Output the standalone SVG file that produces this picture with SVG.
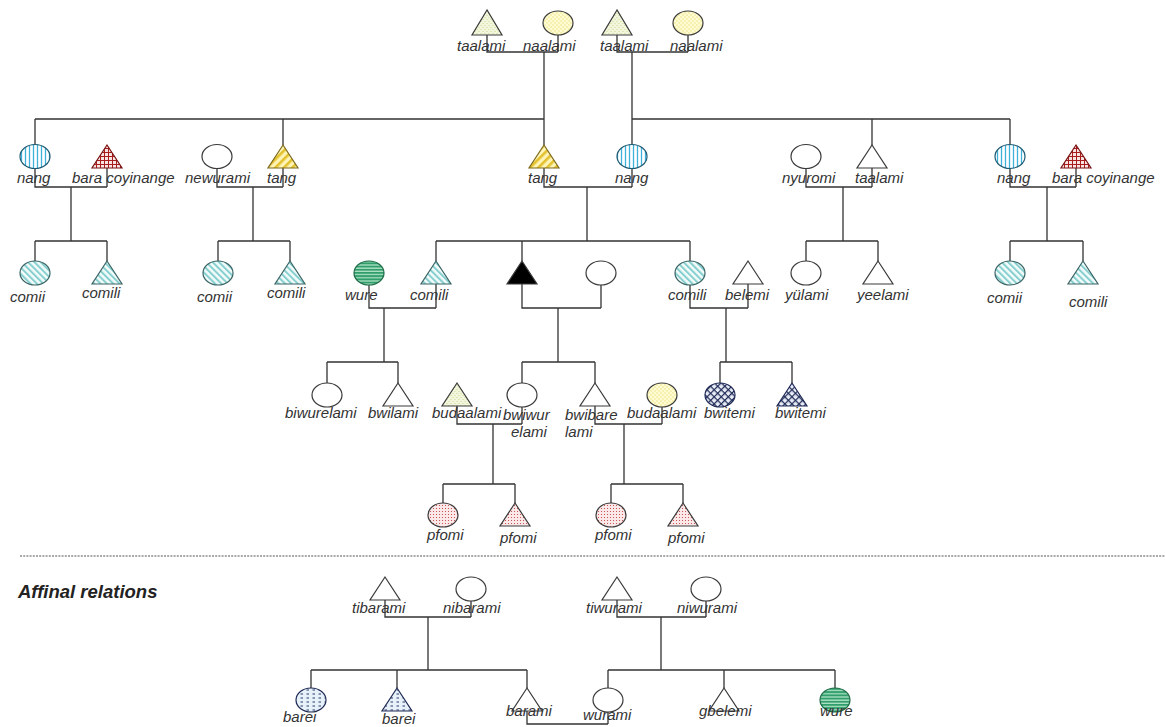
<svg xmlns="http://www.w3.org/2000/svg" width="1165" height="727" viewBox="0 0 1165 727">
  <defs>
    <!-- fill patterns for the kin-term categories -->
    <pattern id="pVBlue" width="4" height="4" patternUnits="userSpaceOnUse">
      <rect width="4" height="4" fill="#ffffff"/>
      <line x1="1.5" y1="0" x2="1.5" y2="4" stroke="#3fb0da" stroke-width="1.3"/>
    </pattern>
    <pattern id="pRedGrid" width="4" height="4" patternUnits="userSpaceOnUse">
      <rect width="4" height="4" fill="#f9e4e4"/>
      <path d="M0 0.5H4M0.5 0V4" stroke="#a81c1c" stroke-width="1"/>
    </pattern>
    <pattern id="pYelDiag" width="6" height="6" patternUnits="userSpaceOnUse" patternTransform="rotate(45)">
      <rect width="6" height="6" fill="#fff4b8"/>
      <rect width="2.6" height="6" fill="#e3c12c"/>
    </pattern>
    <pattern id="pTealDiag" width="4.5" height="4.5" patternUnits="userSpaceOnUse" patternTransform="rotate(-45)">
      <rect width="4.5" height="4.5" fill="#f4fbfb"/>
      <rect width="2" height="4.5" fill="#86cfcf"/>
    </pattern>
    <pattern id="pGreenH" width="4" height="3.2" patternUnits="userSpaceOnUse">
      <rect width="4" height="3.2" fill="#2f9e6b"/>
      <rect y="2" width="4" height="1.1" fill="#c6ecd6"/>
    </pattern>
    <pattern id="pNavyX" width="5" height="5" patternUnits="userSpaceOnUse" patternTransform="rotate(45)">
      <rect width="5" height="5" fill="#e9edf8"/>
      <path d="M0 0.6H5M0.6 0V5" stroke="#1f2a55" stroke-width="1.2"/>
    </pattern>
    <pattern id="pYelDots" width="4" height="4" patternUnits="userSpaceOnUse">
      <rect width="4" height="4" fill="#fffbd2"/>
      <circle cx="1" cy="1" r="0.7" fill="#e8df78"/>
      <circle cx="3" cy="3" r="0.7" fill="#e8df78"/>
    </pattern>
    <pattern id="pGrnDots" width="4" height="4" patternUnits="userSpaceOnUse">
      <rect width="4" height="4" fill="#f3f6dc"/>
      <path d="M0.5 2L1.5 1M2.5 4L3.5 3" stroke="#b9d27e" stroke-width="0.8"/>
    </pattern>
    <pattern id="pRedDots" width="3" height="3" patternUnits="userSpaceOnUse">
      <rect width="3" height="3" fill="#fbe8e8"/>
      <circle cx="1.5" cy="1.5" r="0.55" fill="#c03a3a"/>
    </pattern>
    <pattern id="pBlueDash" width="6" height="4" patternUnits="userSpaceOnUse">
      <rect width="6" height="4" fill="#e6f1fa"/>
      <path d="M0.5 2H3" stroke="#2a3a6a" stroke-width="1"/>
    </pattern>
  </defs>

  <style>
    .ln { fill: none; stroke: #333; stroke-width: 1.3; }
    .sh { stroke: #3a3a3a; stroke-width: 1.2; }
    .sh.blue { stroke: #1d5a72; }
    .sh.red { stroke: #7a1212; }
    .sh.gold { stroke: #7d6a1c; }
    .sh.teal { stroke: #3b6464; }
    .sh.navy { stroke: #1f2a55; }
    .sh.green { stroke: #1e6b47; }
    .lb { font-family: "Liberation Sans", Arial, sans-serif; font-style: italic; font-size: 15px; fill: #333; }
    .hd { font-family: "Liberation Sans", Arial, sans-serif; font-style: italic; font-weight: bold; font-size: 18.5px; fill: #222; }
    .sep { stroke: #555; stroke-width: 1; stroke-dasharray: 2 1.2; }
  </style>

  <rect width="1165" height="727" fill="#ffffff"/>

  <!-- connectors: marriage lines, descent lines and sibling bars -->
  <g id="connectors" class="ln">
    <!-- first generation couples -->
    <path d="M487 35V52H558M558 35V52M544 52V145"/>
    <path d="M617 35V52H688M688 35V52M632 52V144.5"/>
    <!-- sibling bars, second generation -->
    <path d="M35 119H544M35 119V144.5M283 119V145"/>
    <path d="M632 119H1010M872 119V145M1010 119V144.5"/>
    <!-- second generation couples -->
    <path d="M35 168.5V187H107M107 168V187M71 187V241"/>
    <path d="M217 168.5V187H283M283 168V187M253 187V241"/>
    <path d="M544 168V187H632M632 168.5V187M587 187V241"/>
    <path d="M806 168.5V187H872M872 168V187M843 187V241"/>
    <path d="M1010 168.5V187H1076M1076 168V187M1047 187V241"/>
    <!-- sibling bars, third generation -->
    <path d="M35 241H107M35 241V261M107 241V261"/>
    <path d="M218 241H290M218 241V261M290 241V261"/>
    <path d="M436 241H690M436 241V261M522 241V261M690 241V261"/>
    <path d="M806 241H878M806 241V261M878 241V261"/>
    <path d="M1010 241H1083M1010 241V261M1083 241V261"/>
    <!-- third generation couples -->
    <path d="M369 285V308H436M436 284V308M384 308V362"/>
    <path d="M522 284V308H601M601 285V308M558 308V362"/>
    <path d="M690 285V308H748M748 284V308M726 308V362"/>
    <!-- sibling bars, fourth generation -->
    <path d="M327 362H398M327 362V383M398 362V383"/>
    <path d="M522 362H595M522 362V383M595 362V383"/>
    <path d="M720 362H792M720 362V383M792 362V383"/>
    <!-- fourth generation couples -->
    <path d="M457 406V424H522M522 407V424M493 424V484"/>
    <path d="M595 406V424H662M662 407V424M624 424V484"/>
    <!-- sibling bars, fifth generation -->
    <path d="M443 484H515M443 484V503M515 484V503"/>
    <path d="M611 484H683M611 484V503M683 484V503"/>
    <!-- affinal couples and children -->
    <path d="M385 600V617H471M471 601V617M428 617V670"/>
    <path d="M617 600V617H706M706 601V617M661 617V670"/>
    <path d="M311 670H527M311 670V688M397 670V688M527 670V688"/>
    <path d="M608 670H835M608 670V688M724 670V688M835 670V688"/>
    <path d="M527 711V724H608M608 712V724"/>
  </g>

  <!-- generation 1 -->
  <g id="taalami-1"><polygon class="sh" fill="url(#pGrnDots)" points="487,10 472,35 502,35"/><text class="lb" x="457" y="51">taalami</text></g>
  <g id="naalami-1"><ellipse class="sh" fill="url(#pYelDots)" cx="558" cy="23" rx="15" ry="12"/><text class="lb" x="523" y="51">naalami</text></g>
  <g id="taalami-2"><polygon class="sh" fill="url(#pGrnDots)" points="617,10 602,35 632,35"/><text class="lb" x="600" y="51">taalami</text></g>
  <g id="naalami-2"><ellipse class="sh" fill="url(#pYelDots)" cx="688" cy="23" rx="15" ry="12"/><text class="lb" x="670" y="51">naalami</text></g>

  <!-- generation 2 -->
  <g id="nang-1"><ellipse class="sh blue" fill="url(#pVBlue)" cx="35" cy="156.5" rx="15" ry="12"/><text class="lb" x="17" y="183">nang</text></g>
  <g id="bara-coyinange-1"><polygon class="sh red" fill="url(#pRedGrid)" points="107,145 92,168 122,168"/><text class="lb" x="72" y="183">bara coyinange</text></g>
  <g id="newurami"><ellipse class="sh" fill="#fff" cx="217" cy="156.5" rx="15" ry="12"/><text class="lb" x="185" y="183">newurami</text></g>
  <g id="tang-1"><polygon class="sh gold" fill="url(#pYelDiag)" points="283,145 268,168 298,168"/><text class="lb" x="267" y="183">tang</text></g>
  <g id="tang-2"><polygon class="sh gold" fill="url(#pYelDiag)" points="544,145 529,168 559,168"/><text class="lb" x="528" y="183">tang</text></g>
  <g id="nang-2"><ellipse class="sh blue" fill="url(#pVBlue)" cx="632" cy="156.5" rx="15" ry="12"/><text class="lb" x="615" y="183">nang</text></g>
  <g id="nyuromi"><ellipse class="sh" fill="#fff" cx="806" cy="156.5" rx="15" ry="12"/><text class="lb" x="782" y="183">nyuromi</text></g>
  <g id="taalami-3"><polygon class="sh" fill="#fff" points="872,145 857,168 887,168"/><text class="lb" x="855" y="183">taalami</text></g>
  <g id="nang-3"><ellipse class="sh blue" fill="url(#pVBlue)" cx="1010" cy="156.5" rx="15" ry="12"/><text class="lb" x="997" y="183">nang</text></g>
  <g id="bara-coyinange-2"><polygon class="sh red" fill="url(#pRedGrid)" points="1076,145 1061,168 1091,168"/><text class="lb" x="1052" y="183">bara coyinange</text></g>

  <!-- generation 3 -->
  <g id="comii-1"><ellipse class="sh teal" fill="url(#pTealDiag)" cx="35" cy="273" rx="15" ry="12"/><text class="lb" x="10" y="302">comii</text></g>
  <g id="comili-1"><polygon class="sh teal" fill="url(#pTealDiag)" points="107,261 92,284 122,284"/><text class="lb" x="82" y="298">comili</text></g>
  <g id="comii-2"><ellipse class="sh teal" fill="url(#pTealDiag)" cx="218" cy="273" rx="15" ry="12"/><text class="lb" x="197" y="302">comii</text></g>
  <g id="comili-2"><polygon class="sh teal" fill="url(#pTealDiag)" points="290,261 275,284 305,284"/><text class="lb" x="267" y="298">comili</text></g>
  <g id="wure-1"><ellipse class="sh green" fill="url(#pGreenH)" cx="369" cy="273" rx="15" ry="12"/><text class="lb" x="345" y="300">wure</text></g>
  <g id="comili-3"><polygon class="sh teal" fill="url(#pTealDiag)" points="436,261 421,284 451,284"/><text class="lb" x="410" y="300">comili</text></g>
  <g id="ego"><polygon class="sh" fill="#000" points="522,261 507,284 537,284"/></g>
  <g id="ego-wife"><ellipse class="sh" fill="#fff" cx="601" cy="273" rx="15" ry="12"/></g>
  <g id="comili-4"><ellipse class="sh teal" fill="url(#pTealDiag)" cx="690" cy="273" rx="15" ry="12"/><text class="lb" x="668" y="300">comili</text></g>
  <g id="belemi"><polygon class="sh" fill="#fff" points="748,261 733,284 763,284"/><text class="lb" x="725" y="300">belemi</text></g>
  <g id="yulami"><ellipse class="sh" fill="#fff" cx="806" cy="273" rx="15" ry="12"/><text class="lb" x="785" y="300">yülami</text></g>
  <g id="yeelami"><polygon class="sh" fill="#fff" points="878,261 863,284 893,284"/><text class="lb" x="857" y="300">yeelami</text></g>
  <g id="comii-3"><ellipse class="sh teal" fill="url(#pTealDiag)" cx="1010" cy="273" rx="15" ry="12"/><text class="lb" x="987" y="303">comii</text></g>
  <g id="comili-5"><polygon class="sh teal" fill="url(#pTealDiag)" points="1083,261 1068,284 1098,284"/><text class="lb" x="1069" y="307">comili</text></g>

  <!-- generation 4 -->
  <g id="biwurelami"><ellipse class="sh" fill="#fff" cx="327" cy="395" rx="15" ry="12"/><text class="lb" x="285" y="418">biwurelami</text></g>
  <g id="bwilami"><polygon class="sh" fill="#fff" points="398,383 383,406 413,406"/><text class="lb" x="368" y="418">bwilami</text></g>
  <g id="budaalami-1"><polygon class="sh" fill="url(#pGrnDots)" points="457,383 442,406 472,406"/><text class="lb" x="432" y="418">budaalami</text></g>
  <g id="bwiwurelami"><ellipse class="sh" fill="#fff" cx="522" cy="395" rx="15" ry="12"/><text class="lb" x="503" y="420">bwiwur</text><text class="lb" x="511" y="437">elami</text></g>
  <g id="bwibarelami"><polygon class="sh" fill="#fff" points="595,383 580,406 610,406"/><text class="lb" x="565" y="420">bwibare</text><text class="lb" x="565" y="437">lami</text></g>
  <g id="budaalami-2"><ellipse class="sh" fill="url(#pYelDots)" cx="662" cy="395" rx="15" ry="12"/><text class="lb" x="627" y="418">budaalami</text></g>
  <g id="bwitemi-1"><ellipse class="sh navy" fill="url(#pNavyX)" cx="720" cy="395" rx="15" ry="12"/><text class="lb" x="704" y="418">bwitemi</text></g>
  <g id="bwitemi-2"><polygon class="sh navy" fill="url(#pNavyX)" points="792,383 777,406 807,406"/><text class="lb" x="775" y="418">bwitemi</text></g>

  <!-- generation 5 -->
  <g id="pfomi-1"><ellipse class="sh" fill="url(#pRedDots)" cx="443" cy="515" rx="15" ry="12"/><text class="lb" x="427" y="540">pfomi</text></g>
  <g id="pfomi-2"><polygon class="sh" fill="url(#pRedDots)" points="515,503 500,526 530,526"/><text class="lb" x="500" y="543">pfomi</text></g>
  <g id="pfomi-3"><ellipse class="sh" fill="url(#pRedDots)" cx="611" cy="515" rx="15" ry="12"/><text class="lb" x="595" y="540">pfomi</text></g>
  <g id="pfomi-4"><polygon class="sh" fill="url(#pRedDots)" points="683,503 668,526 698,526"/><text class="lb" x="668" y="543">pfomi</text></g>

  <!-- separator and affinal section -->
  <line class="sep" x1="20" y1="556" x2="1165" y2="556"/>
  <text class="hd" x="18" y="598">Affinal relations</text>

  <g id="tibarami"><polygon class="sh" fill="#fff" points="385,577 370,600 400,600"/><text class="lb" x="352" y="613">tibarami</text></g>
  <g id="nibarami"><ellipse class="sh" fill="#fff" cx="471" cy="589" rx="15" ry="12"/><text class="lb" x="443" y="613">nibarami</text></g>
  <g id="tiwurami"><polygon class="sh" fill="#fff" points="617,577 602,600 632,600"/><text class="lb" x="586" y="613">tiwurami</text></g>
  <g id="niwurami"><ellipse class="sh" fill="#fff" cx="706" cy="589" rx="15" ry="12"/><text class="lb" x="677" y="613">niwurami</text></g>

  <g id="barei-1"><ellipse class="sh navy" fill="url(#pBlueDash)" cx="311" cy="700" rx="15" ry="12"/><text class="lb" x="283" y="722">barei</text></g>
  <g id="barei-2"><polygon class="sh navy" fill="url(#pBlueDash)" points="397,688 382,711 412,711"/><text class="lb" x="382" y="724">barei</text></g>
  <g id="barami"><polygon class="sh" fill="#fff" points="527,688 512,711 542,711"/><text class="lb" x="506" y="716">barami</text></g>
  <g id="wurami"><ellipse class="sh" fill="#fff" cx="608" cy="700" rx="15" ry="12"/><text class="lb" x="583" y="720">wurami</text></g>
  <g id="gbelemi"><polygon class="sh" fill="#fff" points="724,688 709,711 739,711"/><text class="lb" x="699" y="716">gbelemi</text></g>
  <g id="wure-2"><ellipse class="sh green" fill="url(#pGreenH)" cx="835" cy="700" rx="15" ry="12"/><text class="lb" x="820" y="716">wure</text></g>
</svg>
